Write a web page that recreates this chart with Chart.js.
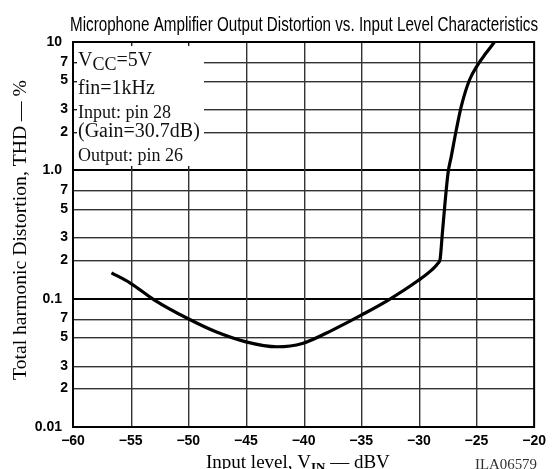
<!DOCTYPE html>
<html><head><meta charset="utf-8">
<script src="https://cdn.jsdelivr.net/npm/chart.js@4.4.1/dist/chart.umd.min.js"></script>
<style>html,body{margin:0;padding:0;background:#fff;}#wrap{width:552px;height:469px;position:relative;overflow:hidden;}</style>
</head><body><div id="wrap"><canvas id="c" width="552" height="469"></canvas></div>
<script>
const titleText = 'Microphone Amplifier Output Distortion vs. Input Level Characteristics';
const yAxisTitle = 'Total harmonic Distortion, THD — %';
const xAxisTitleMain = 'Input level, V';
const xAxisTitleSub = 'IN';
const xAxisTitleTail = ' — dBV';
const figureCode = 'ILA06579';
const noteVcc = ['V', 'CC', '=5V'];
const noteLines = ['fin=1kHz', 'Input: pin 28', '(Gain=30.7dB)', 'Output: pin 26'];

const inputLevel = [-56.66, -55.0, -52.93, -50.05, -47.6, -45.0, -42.3, -40.1, -37.5, -35.0, -32.65, -30.0, -28.9, -28.33, -28.15, -27.96, -27.76, -27.47, -27.19, -26.75, -26.32, -25.6, -24.88, -24.17, -23.44];
const thdPercent = [0.159, 0.1318, 0.0975, 0.070, 0.0552, 0.0461, 0.0422, 0.0448, 0.0569, 0.0744, 0.0975, 0.1397, 0.167, 0.189, 0.205, 0.324, 0.52, 0.95, 1.28, 2.07, 3.15, 5.08, 6.67, 8.2, 10];

const xTickValues = [-60, -55, -50, -45, -40, -35, -30, -25, -20];
const xTickLabels = ['\u221260', '\u221255', '\u221250', '\u221245', '\u221240', '\u221235', '\u221230', '\u221225', '\u221220'];
const yTickValues = [0.01, 0.02, 0.03, 0.05, 0.07, 0.1, 0.2, 0.3, 0.5, 0.7, 1, 2, 3, 5, 7, 10];
const yTickLabels = ['0.01', '2', '3', '5', '7', '0.1', '2', '3', '5', '7', '1.0', '2', '3', '5', '7', '10'];

const SANS = '"Liberation Sans", Arial, sans-serif';
const SERIF = '"Liberation Serif", "Times New Roman", serif';

const decor = {
  id: 'decor',
  beforeDatasetsDraw(chart) {
    const { ctx, chartArea: a, scales: { x, y } } = chart;
    ctx.save();
    // grid lines
    yTickValues.forEach(v => {
      if (v === yTickValues[0] || v === yTickValues[yTickValues.length - 1]) return;
      const major = (v === 0.1 || v === 1);
      const py = Math.round(y.getPixelForValue(v));
      ctx.fillStyle = major ? '#000' : '#333';
      if (major) ctx.fillRect(a.left, py - 1, a.right - a.left, 2);
      else ctx.fillRect(a.left, py, a.right - a.left, 1.4);
    });
    xTickValues.forEach(v => {
      if (v === xTickValues[0] || v === xTickValues[xTickValues.length - 1]) return;
      const px = Math.round(x.getPixelForValue(v));
      ctx.fillStyle = '#333';
      ctx.fillRect(px, a.top, 1.4, a.bottom - a.top);
    });
    // annotation box
    const y1 = Math.round(y.getPixelForValue(1));
    const boxR = a.left + 131;
    ctx.fillStyle = '#fff';
    ctx.fillRect(a.left + 1, a.top + 1, boxR - a.left - 1, y1 - 1 - a.top - 1);
    ctx.fillStyle = '#222';
    [2, 3, 5, 7].forEach(v => { const py = Math.round(y.getPixelForValue(v)); ctx.fillRect(a.left, py, 4, 1.4); });
    [-55, -50].forEach(v => { const px = Math.round(x.getPixelForValue(v)); ctx.fillRect(px, a.top, 1.4, 4); ctx.fillRect(px, y1 - 4, 1.4, 4); });
    // notes
    ctx.fillStyle = '#111';
    ctx.textBaseline = 'alphabetic';
    ctx.textAlign = 'left';
    let tx = a.left + 5;
    ctx.font = '20px ' + SERIF;
    ctx.fillText(noteVcc[0], tx, 66);
    tx += ctx.measureText(noteVcc[0]).width;
    ctx.font = '18px ' + SERIF;
    ctx.fillText(noteVcc[1], tx, 70);
    tx += ctx.measureText(noteVcc[1]).width;
    ctx.font = '20px ' + SERIF;
    ctx.fillText(noteVcc[2], tx, 66);
    const fonts = ['20px ', '18px ', '20px ', '18px '];
    const bases = [94, 118, 137, 161];
    noteLines.forEach((t, i) => {
      ctx.font = fonts[i] + SERIF;
      ctx.fillText(t, a.left + 5, bases[i]);
    });
    ctx.restore();
  },
  afterDraw(chart) {
    const { ctx, chartArea: a, scales: { x, y } } = chart;
    ctx.save();
    // border
    ctx.strokeStyle = '#000';
    ctx.lineWidth = 2;
    ctx.strokeRect(a.left, a.top, a.right - a.left, a.bottom - a.top);
    // y tick labels
    ctx.fillStyle = '#000';
    ctx.font = 'bold 14px ' + SANS;
    ctx.textAlign = 'right';
    ctx.textBaseline = 'middle';
    yTickValues.forEach((v, i) => {
      const lab = yTickLabels[i];
      const rx = lab.length === 1 ? 68 : 62;
      ctx.fillText(lab, rx, y.getPixelForValue(v));
    });
    // title
    ctx.font = '21px ' + SANS;
    ctx.textAlign = 'left';
    ctx.textBaseline = 'alphabetic';
    let w = ctx.measureText(titleText).width;
    ctx.save();
    ctx.translate(70, 31);
    ctx.scale(468 / w, 1);
    ctx.fillText(titleText, 0, 0);
    ctx.restore();
    // y axis title
    ctx.font = '19px ' + SERIF;
    w = ctx.measureText(yAxisTitle).width;
    ctx.save();
    ctx.translate(26, 230);
    ctx.rotate(-Math.PI / 2);
    ctx.scale(300 / w, 1);
    ctx.textAlign = 'center';
    ctx.fillText(yAxisTitle, 0, 0);
    ctx.restore();
    // x axis title
    ctx.textAlign = 'left';
    let tx = 206;
    ctx.font = '19px ' + SERIF;
    ctx.fillText(xAxisTitleMain, tx, 468);
    tx += ctx.measureText(xAxisTitleMain).width;
    ctx.font = 'bold 13px ' + SERIF;
    ctx.fillText(xAxisTitleSub, tx, 471);
    tx += ctx.measureText(xAxisTitleSub).width;
    ctx.font = '19px ' + SERIF;
    ctx.fillText(xAxisTitleTail, tx, 468);
    // figure code
    ctx.font = '14px ' + SERIF;
    w = ctx.measureText(figureCode).width;
    ctx.save();
    ctx.translate(475, 469);
    ctx.scale(62 / w, 1);
    ctx.fillStyle = '#333';
    ctx.fillText(figureCode, 0, 0);
    ctx.restore();
    ctx.restore();
  }
};

new Chart(document.getElementById('c'), {
  type: 'line',
  data: {
    datasets: [{
      data: inputLevel.map((v, i) => ({ x: v, y: thdPercent[i] })),
      borderColor: '#000',
      borderWidth: 3.2,
      pointRadius: 0,
      fill: false,
      cubicInterpolationMode: 'monotone',
      clip: 2
    }]
  },
  options: {
    responsive: false,
    animation: false,
    devicePixelRatio: 1,
    layout: { padding: { left: 0, top: 42, right: 15, bottom: 0 } },
    plugins: { legend: { display: false }, tooltip: { enabled: false }, title: { display: false } },
    scales: {
      x: {
        type: 'linear', min: -60, max: -20,
        afterBuildTicks: s => { s.ticks = xTickValues.map(v => ({ value: v })); },
        afterFit: s => { s.height = 42; },
        ticks: {
          callback: (v, i) => xTickLabels[i],
          color: '#000', font: { family: SANS, size: 14, weight: 'bold' }, padding: 6, maxRotation: 0, autoSkip: false
        },
        grid: { display: false, drawTicks: false },
        border: { display: false }
      },
      y: {
        type: 'logarithmic', min: 0.01, max: 10,
        afterBuildTicks: s => { s.ticks = yTickValues.map(v => ({ value: v })); },
        afterFit: s => { s.width = 73; },
        ticks: { display: false },
        grid: { display: false, drawTicks: false },
        border: { display: false }
      }
    }
  },
  plugins: [decor]
});
</script>
</body></html>
